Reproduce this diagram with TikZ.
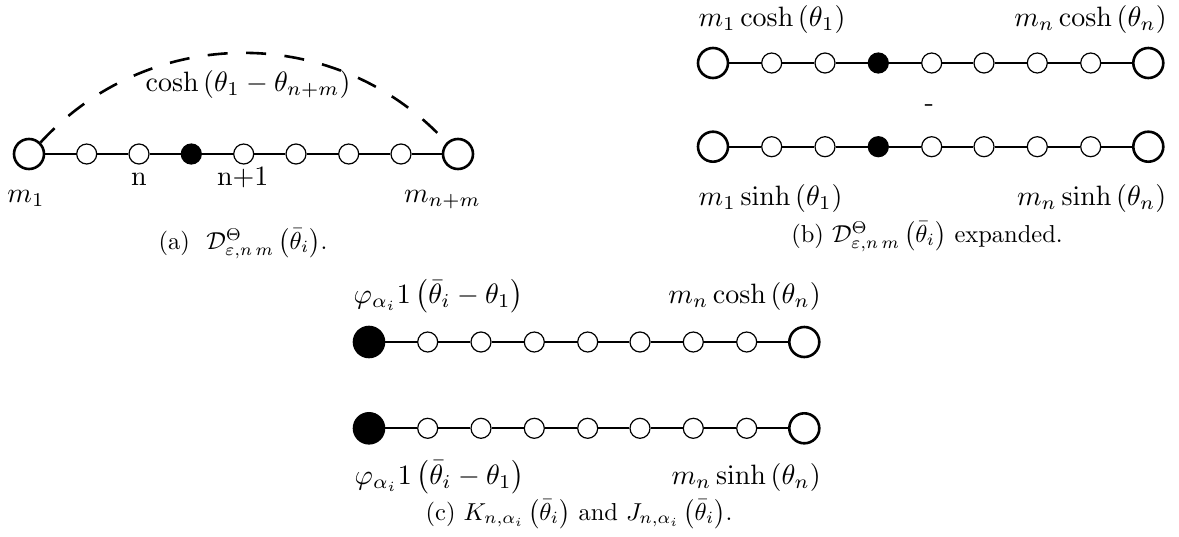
\documentclass[tikz,border=0pt]{standalone}
\usepackage{graphicx}
\newcommand{\LabS}[1]{\scalebox{2.8}{#1}}
\newcommand{\CapS}[1]{\scalebox{2.45}{#1}}
\begin{document}
\begin{tikzpicture}[x=1pt,y=-1pt,
  bigc/.style={circle,draw,line width=2.6pt,minimum size=30pt,inner sep=0pt,fill=white},
  bigblack/.style={bigc,fill=black},
  smallc/.style={circle,draw,line width=1.2pt,minimum size=20pt,inner sep=0pt,fill=white},
  smallblack/.style={smallc,fill=black},
  link/.style={line width=2pt},
  arcline/.style={line width=2.6pt,dash pattern=on 20pt off 18.5pt},
  lab/.style={font=\fontsize{10}{12}\selectfont,inner sep=0pt},
  captxt/.style={font=\fontsize{10}{12}\selectfont,inner sep=0pt}]
\useasboundingbox (0,0) rectangle (1179,536);

% ---------- panel (a)
\foreach \x [count=\i from 0] in {29,86.7,139,191.3,243.7,296,348.7,401,458}{
  \ifnum\i=0 \node[bigc] (a\i) at (\x,154) {};
  \else\ifnum\i=8 \node[bigc] (a\i) at (\x,154) {};
  \else\ifnum\i=3 \node[smallblack] (a\i) at (\x,154) {};
  \else \node[smallc] (a\i) at (\x,154) {};
  \fi\fi\fi}
\foreach \i [evaluate=\i as \j using int(\i+1)] in {0,...,7}
  \draw[link] (a\i) -- (a\j);
\draw[arcline] (a0.45) .. controls (150,23) and (337,23) .. (a8.135);
\node[lab,anchor=base] (acosh) at (248,91.7) {\LabS{$\cosh\left(\theta_1-\theta_{n+m}\right)$}};
\node[lab,anchor=base] (an) at (139,185) {\LabS{n}};
\node[lab,anchor=base] (an1) at (242.7,185) {\LabS{n+1}};
\node[lab,anchor=base] (am1) at (26,202.5) {\LabS{$m_1$}};
\node[lab,anchor=base] (amn) at (442.5,202.5) {\LabS{$m_{n+m}$}};
\node[captxt,anchor=base] (capa) at (243,249) {\CapS{(a)\ \ $\mathcal{D}^{\Theta}_{\varepsilon,n\,m}\left(\bar{\theta}_i\right)$.}};

% ---------- panel (b)
\foreach \r/\y in {b/63,c/146.7}{
  \foreach \x [count=\i from 0] in {713,771.7,825,878.3,931.7,984,1037.3,1090.7,1148.3}{
    \ifnum\i=0 \node[bigc] (\r\i) at (\x,\y) {};
    \else\ifnum\i=8 \node[bigc] (\r\i) at (\x,\y) {};
    \else\ifnum\i=3 \node[smallblack] (\r\i) at (\x,\y) {};
    \else \node[smallc] (\r\i) at (\x,\y) {};
    \fi\fi\fi}
  \foreach \i [evaluate=\i as \j using int(\i+1)] in {0,...,7}
    \draw[link] (\r\i) -- (\r\j);
}
\node[lab,anchor=base west] (btl) at (698.3,26.7) {\LabS{$m_1\cosh\left(\theta_1\right)$}};
\node[lab,anchor=base east] (btr) at (1167,26.7) {\LabS{$m_n\cosh\left(\theta_n\right)$}};
\node[lab,anchor=base] (bminus) at (929.3,111.5) {\LabS{-}};
\node[lab,anchor=base west] (bbl) at (698.5,205) {\LabS{$m_1\sinh\left(\theta_1\right)$}};
\node[lab,anchor=base east] (bbr) at (1166.5,205) {\LabS{$m_n\sinh\left(\theta_n\right)$}};
\node[captxt,anchor=base] (capb) at (927,242) {\CapS{(b) $\mathcal{D}^{\Theta}_{\varepsilon,n\,m}\left(\bar{\theta}_i\right)$ expanded.}};

% ---------- panel (c)
\foreach \r/\y in {d/342,e/428.3}{
  \foreach \x [count=\i from 0] in {369,427.7,481,534.3,587.7,640,693.3,746.7,804.3}{
    \ifnum\i=0 \node[bigblack] (\r\i) at (\x,\y) {};
    \else\ifnum\i=8 \node[bigc] (\r\i) at (\x,\y) {};
    \else \node[smallc] (\r\i) at (\x,\y) {};
    \fi\fi}
  \foreach \i [evaluate=\i as \j using int(\i+1)] in {0,...,7}
    \draw[link] (\r\i) -- (\r\j);
}
\node[lab,anchor=base west] (dtl) at (353.5,303.5) {\LabS{$\varphi_{\alpha_i}1\left(\bar{\theta}_i-\theta_1\right)$}};
\node[lab,anchor=base east] (dtr) at (821,303.5) {\LabS{$m_n\cosh\left(\theta_n\right)$}};
\node[lab,anchor=base west] (ebl) at (354.5,484) {\LabS{$\varphi_{\alpha_i}1\left(\bar{\theta}_i-\theta_1\right)$}};
\node[lab,anchor=base east] (ebr) at (821,484) {\LabS{$m_n\sinh\left(\theta_n\right)$}};
\node[captxt,anchor=base] (capc) at (579,520) {\CapS{(c) $K_{n,\alpha_i}\left(\bar{\theta}_i\right)$ and $J_{n,\alpha_i}\left(\bar{\theta}_i\right)$.}};
\end{tikzpicture}
\end{document}
